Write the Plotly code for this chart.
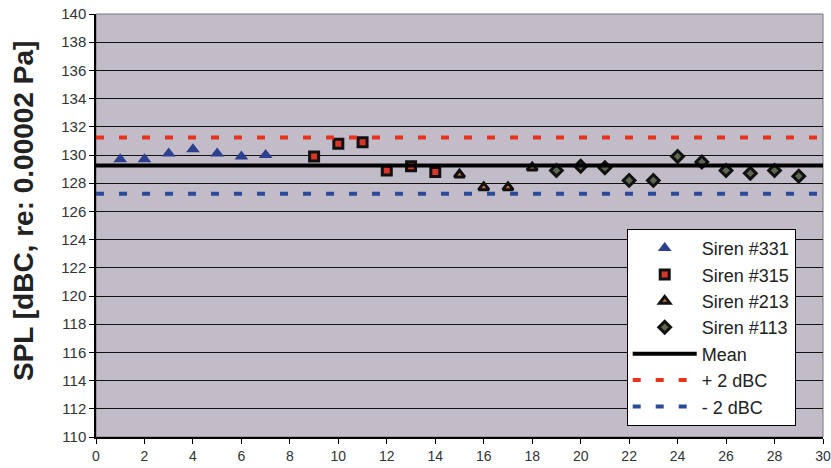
import plotly.graph_objects as go

# ---- data ----
x_331 = [1, 2, 3, 4, 5, 6, 7]
y_331 = [129.7, 129.7, 130.1, 130.4, 130.1, 129.9, 130.0]

x_315 = [9, 10, 11, 12, 13, 14]
y_315 = [129.9, 130.8, 130.9, 128.9, 129.2, 128.8]

x_213 = [15, 16, 17, 18]
y_213 = [128.6, 127.7, 127.7, 129.1]

x_113 = [19, 20, 21, 22, 23, 24, 25, 26, 27, 28, 29]
y_113 = [128.9, 129.2, 129.1, 128.2, 128.2, 129.9, 129.5, 128.9, 128.7, 128.9, 128.5]

line_x = [0, 30]
mean_y = [129.25, 129.25]
plus2_y = [131.25, 131.25]
minus2_y = [127.25, 127.25]

x_ticks = list(range(0, 31, 2))
y_ticks = list(range(110, 141, 2))

fig = go.Figure()

fig.add_trace(go.Scatter(x=x_331, y=y_331, mode="markers", name="Siren #331",
                         marker=dict(symbol="triangle-up", size=12, color="#2e3f8f",
                                     line=dict(width=0))))
fig.add_trace(go.Scatter(x=x_315, y=y_315, mode="markers", name="Siren #315",
                         marker=dict(symbol="square", size=9, color="#d8362a",
                                     line=dict(width=3, color="#111111"))))
fig.add_trace(go.Scatter(x=x_213, y=y_213, mode="markers", name="Siren #213",
                         marker=dict(symbol="triangle-up", size=9, color="#c07a3a",
                                     line=dict(width=3, color="#111111"))))
fig.add_trace(go.Scatter(x=x_113, y=y_113, mode="markers", name="Siren #113",
                         marker=dict(symbol="diamond", size=9, color="#5e6650",
                                     line=dict(width=3, color="#111111"))))
fig.add_trace(go.Scatter(x=line_x, y=mean_y, mode="lines", name="Mean",
                         line=dict(color="black", width=4)))
fig.add_trace(go.Scatter(x=line_x, y=plus2_y, mode="lines", name="+ 2 dBC",
                         line=dict(color="#e8321e", width=4, dash="8px,15px")))
fig.add_trace(go.Scatter(x=line_x, y=minus2_y, mode="lines", name="- 2 dBC",
                         line=dict(color="#2c4a9a", width=4, dash="8px,15px")))

fig.update_layout(
    width=831, height=468,
    margin=dict(l=96, r=8, t=14, b=31),
    paper_bgcolor="white",
    plot_bgcolor="#c1bcc8",
    font=dict(family="Liberation Sans, Arial, sans-serif", color="#222222"),
    legend=dict(x=0.73, y=0.492, xanchor="left", yanchor="top",
                bgcolor="white", bordercolor="black", borderwidth=1,
                font=dict(size=18, color="#222222"), tracegroupgap=0,
                itemwidth=64),
)

fig.update_xaxes(range=[0, 30], tickvals=x_ticks, showgrid=False, zeroline=False,
                 showline=True, linecolor="black", linewidth=1.5,
                 ticks="outside", ticklen=5, tickcolor="black",
                 tickfont=dict(size=14, color="#333333"), automargin=False)
fig.update_yaxes(range=[110, 140], tickvals=y_ticks, showgrid=True, gridcolor="#111111",
                 gridwidth=1.3, zeroline=False,
                 showline=True, linecolor="black", linewidth=1.5,
                 ticks="outside", ticklen=5, tickcolor="black",
                 tickfont=dict(size=15, color="#333333"), automargin=False)

fig.add_annotation(text="<b>SPL [dBC, re: 0.00002 Pa]</b>", textangle=-90,
                   xref="paper", yref="paper", x=-0.1, y=0.535,
                   xanchor="center", yanchor="middle", showarrow=False,
                   font=dict(size=28, color="#222222"))

fig.add_shape(type="rect", xref="paper", yref="paper", x0=0, x1=1, y0=0, y1=1,
              line=dict(color="#777777", width=1), layer="below")

fig.write_html("out.html", config={"displayModeBar": False},
               post_script="document.body.style.margin='0';document.body.style.overflow='hidden';")
